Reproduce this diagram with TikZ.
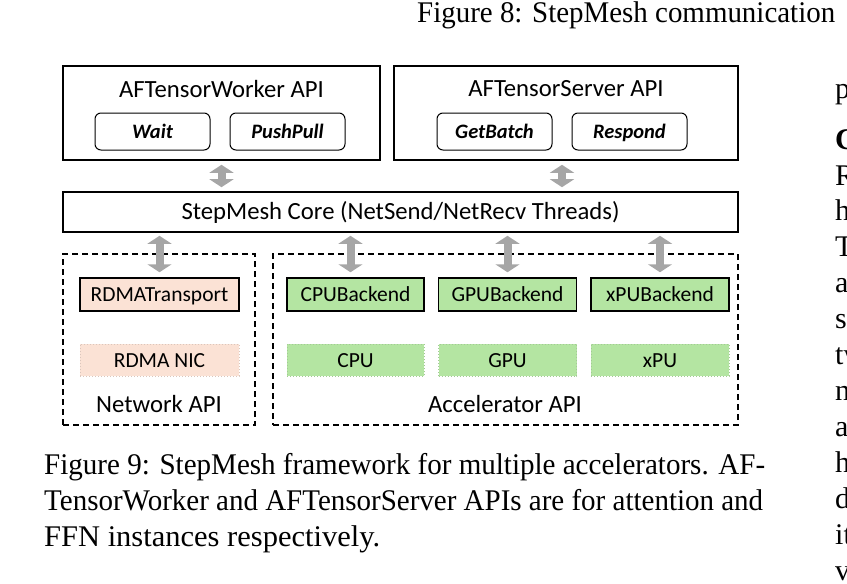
\documentclass[tikz,border=0pt]{standalone}
\usepackage{graphicx}
\usepackage{fontspec}
\setmainfont{Liberation Serif}
\newfontfamily\diafont{Carlito}
\usetikzlibrary{arrows.meta,positioning}

\definecolor{bkgreen}{HTML}{B4E5A2}
\definecolor{nicpeach}{HTML}{FBE2D5}
\definecolor{arrowgray}{HTML}{A6A6A6}

\newlength{\fitlen}
\newcommand{\fitline}[2]{\settowidth{\fitlen}{#2}\pgfmathsetmacro{\fitfac}{#1/\fitlen}\scalebox{\fitfac}[1]{#2}}

\tikzset{
    apibox/.style={draw, line width=1.6pt, inner sep=0pt, minimum height=94pt},
    callbox/.style={draw, rounded corners=6pt, line width=1pt, inner sep=0pt,
        minimum width=115pt, minimum height=37pt, text height=13pt, text depth=0pt,
        font=\diafont\fontsize{20.5}{24}\selectfont\bfseries\itshape},
    corebox/.style={draw, line width=1.6pt, inner sep=0pt, minimum width=675pt, minimum height=40pt},
    groupbox/.style={draw, line width=1.8pt, dash pattern=on 6pt off 4pt, inner sep=0pt, minimum height=171pt},
    backend/.style={draw, line width=1.5pt, inner sep=0pt, minimum width=138pt, minimum height=33pt,
        text height=13.6pt, text depth=0pt, font=\diafont\fontsize{21.5}{26}\selectfont},
    device/.style={draw, dotted, line width=1pt, inner sep=0pt, minimum width=138pt, minimum height=32pt,
        text height=13.6pt, text depth=0pt, font=\diafont\fontsize{21.5}{26}\selectfont},
    linkarrow/.style={<->, arrowgray, line width=8pt, shorten <=4pt, shorten >=4pt},
    papertext/.style={anchor=base west, inner sep=0pt, font=\rmfamily\fontsize{30}{36}\selectfont}
}

\begin{document}
\begin{tikzpicture}[x=1pt,y=-1pt,>={Triangle[width=24pt,length=8pt]},
        font=\diafont\fontsize{24.7}{30}\selectfont]
    \useasboundingbox (0,0) rectangle (847,584);

    % API layer
    \node[apibox, minimum width=317pt] (worker) at (221.5,113) {};
    \node[apibox, minimum width=344pt] (server) at (566,113) {};
    \node (wtitle) at (221.5,89) {AFTensorWorker API};
    \node (stitle) at (566,89) {AFTensorServer API};
    \node[callbox]  (wait)     at (152.5,131.5) {Wait};
    \node[callbox]  (pushpull) [right=19pt of wait] {PushPull};
    \node[callbox]  (getbatch) at (494.5,131.5) {GetBatch};
    \node[callbox]  (respond)  [right=19pt of getbatch] {Respond};

    % core
    \node[corebox] (core) at (400.5,212) {StepMesh Core (NetSend/NetRecv Threads)};

    % backends
    \node[groupbox, minimum width=192pt] (netapi) at (159,339.5) {};
    \node[groupbox, minimum width=465pt] (accapi) at (505.5,339.5) {};
    \node[backend, fill=nicpeach, minimum width=159pt] (rdma) at (159.5,294.5) {RDMATransport};
    \node[backend, fill=bkgreen, minimum width=137pt]  (cpub) at (355.5,294.5) {CPUBackend};
    \node[backend, fill=bkgreen] (gpub) [right=13pt of cpub] {GPUBackend};
    \node[backend, fill=bkgreen] (xpub) [right=13pt of gpub] {xPUBackend};
    \node[device, fill=nicpeach, draw=nicpeach!85!black!90, minimum width=159pt] (nic) [below=32pt of rdma] {RDMA NIC};
    \node[device, fill=bkgreen, draw=bkgreen!85!black!90, minimum width=137pt] (cpu) [below=32pt of cpub] {CPU};
    \node[device, fill=bkgreen, draw=bkgreen!85!black!90] (gpu) [below=32pt of gpub] {GPU};
    \node[device, fill=bkgreen, draw=bkgreen!85!black!90] (xpu) [below=32pt of xpub] {xPU};
    \node (netlabel) at (159,404) {Network API};
    \node (acclabel) at (505,404) {Accelerator API};

    \draw[linkarrow] (worker.south) -- (worker.south |- core.north);
    \draw[linkarrow] ([xshift=-4pt]server.south) -- ([xshift=-4pt]server.south |- core.north);
    \draw[linkarrow, shorten <=3pt, shorten >=5pt] (core.south -| rdma) -- (rdma.north);
    \draw[linkarrow, shorten <=3pt, shorten >=5pt] ([xshift=-5pt]core.south -| cpub) -- ([xshift=-5pt]cpub.north);
    \draw[linkarrow, shorten <=3pt, shorten >=5pt] (core.south -| gpub) -- (gpub.north);
    \draw[linkarrow, shorten <=3pt, shorten >=5pt] (core.south -| xpub) -- (xpub.north);

    % surrounding page text
    \node[papertext] (fig8) at (417,22) {\fitline{418}{Figure 8: StepMesh communication}};
    \node[papertext] (cap1) at (44,474) {\fitline{721}{Figure 9: StepMesh framework for multiple accelerators. AF-}};
    \node[papertext] (cap2) at (44,510) {\fitline{719}{TensorWorker and AFTensorServer APIs are for attention and}};
    \node[papertext] (cap3) at (44,546) {\fitline{336}{FFN instances respectively.}};

    \begin{scope}
        \clip (0,0) rectangle (847,584);
        \node[papertext] (col1)  at (835,98)  {p};
        \node[papertext] (col2)  at (835,149) {\textbf{C}};
        \node[papertext] (col3)  at (835,185) {R};
        \node[papertext] (col4)  at (835,220) {h};
        \node[papertext] (col5)  at (835,256) {T};
        \node[papertext] (col6)  at (835,292) {a};
        \node[papertext] (col7)  at (835,328) {s};
        \node[papertext] (col8)  at (835,364) {tw};
        \node[papertext] (col9)  at (835,400) {n};
        \node[papertext] (col10) at (835,436) {a};
        \node[papertext] (col11) at (835,472) {h};
        \node[papertext] (col12) at (835,508) {d};
        \node[papertext] (col13) at (835,544) {it};
        \node[papertext] (col14) at (835,580) {v};
    \end{scope}
\end{tikzpicture}
\end{document}
